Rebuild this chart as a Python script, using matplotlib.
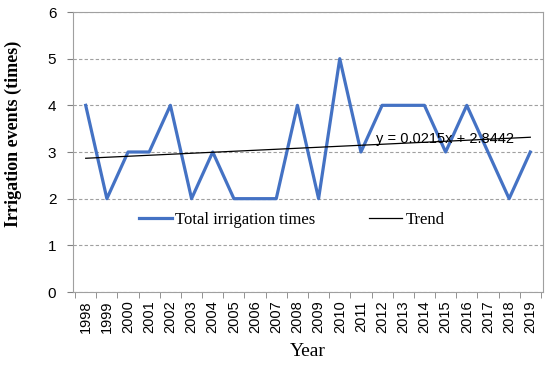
import matplotlib.pyplot as plt
import numpy as np

years = list(range(1998, 2020))
times = [4, 2, 3, 3, 4, 2, 3, 2, 2, 2, 4, 2, 5, 3, 4, 4, 4, 3, 4, 3, 2, 3]

x = np.arange(len(years))
# linear trend, Excel style with x = 1..n
slope, icpt = np.polyfit(x + 1, times, 1)
trend = slope * (x + 1) + icpt

fig = plt.figure(figsize=(5.5, 3.67), dpi=100)
ax = fig.add_axes([73 / 550, 1 - 292 / 367, 470 / 550, 280 / 367])

ax.plot(x, times, color="#4472C4", lw=2.3, label="Total irrigation times", zorder=3)
ax.plot(x, trend, color="black", lw=0.9, label="Trend", zorder=4)

ax.set_xlim(-0.6, len(years) - 0.4)
ax.set_ylim(0, 6)
ax.set_yticks(range(7))
ax.set_xticks(x)
ax.set_xticklabels([str(y) for y in years], rotation=90, fontsize=10.5,
                   family="Liberation Sans")
ax.set_xticks(np.arange(-0.5, len(years)), minor=True)
ax.tick_params(axis="x", which="major", length=0, pad=6)
ax.tick_params(axis="x", which="minor", length=4, color="#808080")
ax.tick_params(axis="y", length=4, color="#808080", labelsize=11, pad=8)
for lab in ax.get_yticklabels():
    lab.set_family("Liberation Sans")

ax.grid(axis="y", linestyle=(0, (3, 2)), color="#A0A0A0", lw=0.8)
for s in ax.spines.values():
    s.set_color("#A0A0A0")

ax.set_xlabel("Year", family="Liberation Serif", fontsize=14)
ax.xaxis.set_label_coords(0.5, (292 - 343) / 280)
ax.set_ylabel("Irrigation events (times)", family="Liberation Serif", fontweight="bold",
              fontsize=13)
ax.yaxis.set_label_coords((22 - 73) / 470, (292 - 134) / 280)

ax.text(16.95, 3.28, "y = %.4fx + %.4f" % (slope, icpt), fontsize=10.5,
        family="Liberation Sans", va="center", ha="center", zorder=5)

leg = ax.legend(loc="center", bbox_to_anchor=(0.465, 0.257), ncol=2, frameon=False,
                prop={"family": "Liberation Serif", "size": 12}, handlelength=2.0,
                handletextpad=0.2, columnspacing=3.2)

fig.savefig("out.png", dpi=100)
